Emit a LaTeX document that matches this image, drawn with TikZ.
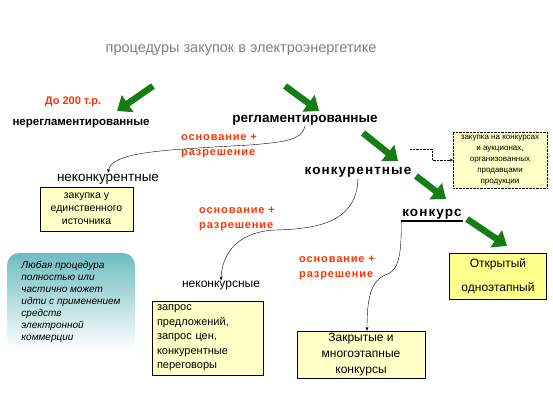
\documentclass[tikz,border=0pt]{standalone}
\usepackage{fontspec}
\setmainfont{Liberation Sans}
\usetikzlibrary{arrows.meta}
\definecolor{arrowgreen}{RGB}{20,125,20}
\definecolor{labelred}{RGB}{255,51,0}
\definecolor{paleyellow}{RGB}{255,255,200}
\definecolor{brightyellow}{RGB}{255,255,140}
\definecolor{tealtop}{RGB}{110,188,192}
\definecolor{titlegrey}{RGB}{128,128,128}
\begin{document}
\begin{tikzpicture}[
  x=1pt, y=-1pt,
  every node/.style={inner sep=1pt, font=\fontsize{11}{13}\selectfont},
  headline/.style={font=\fontsize{14.5}{17}\selectfont, text=titlegrey},
  kind/.style={font=\bfseries\fontsize{13.5}{16}\selectfont},
  spaced/.style={font=\bfseries\fontsize{13.5}{16}\selectfont\addfontfeature{LetterSpace=8}},
  subkind/.style={font=\fontsize{13.5}{15}\selectfont},
  reason/.style={font=\bfseries\fontsize{11}{15}\selectfont\addfontfeature{LetterSpace=8}, text=labelred, align=left, anchor=north west},
  procbox/.style={rectangle, draw, fill=paleyellow, align=center, inner sep=2pt},
  infobox/.style={rectangle, draw, densely dotted, fill=paleyellow, align=center, inner sep=1pt, font=\fontsize{8}{11}\selectfont},
  notebox/.style={rectangle, rounded corners=12pt, top color=tealtop, bottom color=white, align=left, font=\itshape\fontsize{10}{12}\selectfont},
  bigarrow/.style={arrowgreen, line width=6.5pt, -{Triangle[length=13pt, width=20pt]}},
  branch/.style={-{Stealth[length=4pt, width=3pt]}, thin},
]
\useasboundingbox (0,0) rectangle (553,413);

% title and top level
\node[headline] (title) at (241,50) {процедуры закупок в электроэнергетике};
\coordinate (a1s) at (153,86);
\coordinate (a1e) at (117,111);
\coordinate (a2s) at (285,86);
\coordinate (a2e) at (319,111);
\draw[bigarrow] (a1s) -- (a1e);
\draw[bigarrow] (a2s) -- (a2e);

\node[font=\bfseries\fontsize{11}{13}\selectfont, text=labelred] (limit) at (73,102) {До 200 т.р.};
\node[font=\bfseries\fontsize{11.5}{13}\selectfont] (unreg) at (81,124) {нерегламентированные};
\node[kind] (reg) at (305,120) {регламентированные};

% non-competitive branch
\node[reason] (why1) at (180,133) {основание +\\разрешение};
\node[subkind] (noncomp) at (108,179) {неконкурентные};
\node[procbox, minimum width=93pt, minimum height=44pt, font=\fontsize{10.5}{13}\selectfont] (single) at (86.5,209) {закупка у\\единственного\\источника};
\draw[branch] (reg.south) .. controls (302,140) and (285,142) .. (250,145) .. controls (160,150) and (112,152) .. (noncomp.north);

% competitive
\coordinate (a3s) at (363,133);
\coordinate (a3e) at (398,161);
\draw[bigarrow] (a3s) -- (a3e);
\node[spaced] (comp) at (358,172) {конкурентные};
\coordinate (seller) at (410,149);
\node[infobox, minimum width=94pt, minimum height=56pt] (auction) at (500,160) {закупка на конкурсах\\и аукционах,\\организованных\\продавцами\\продукции};
\draw[densely dotted, -{Stealth[length=3pt, width=3pt]}] (seller) -- ++(22,0) |- (auction.west);

% non-tender branch
\node[reason] (why2) at (198,206) {основание +\\разрешение};
\node[font=\fontsize{12}{14}\selectfont] (nontender) at (221,286) {неконкурсные};
\node[procbox, minimum width=111pt, minimum height=74pt, text width=101pt, align=left, font=\fontsize{11}{14.5}\selectfont] (request) at (207.5,338) {запрос\\предложений,\\запрос цен,\\конкурентные\\переговоры};
\draw[branch] (comp.south) .. controls (357,222) and (318,229) .. (275,230) .. controls (236,232) and (222,255) .. (nontender.north);

% tender branch
\coordinate (a4s) at (416,176);
\coordinate (a4e) at (446,199);
\draw[bigarrow] (a4s) -- (a4e);
\node[spaced] (tender) at (432,214) {конкурс};
\draw[line width=1.6pt] ([yshift=-1pt]tender.south west) -- ([yshift=-1pt]tender.south east);
\node[reason] (why3) at (298,255) {основание +\\разрешение};
\node[procbox, minimum width=128pt, minimum height=47pt, font=\fontsize{12}{16}\selectfont] (closed) at (361,354.5) {Закрытые и\\многоэтапные\\конкурсы};
\draw[branch] ([yshift=-1pt]tender.south west) .. controls (402,262) and (396,272) .. (385,275) .. controls (370,282) and (367,300) .. (closed.north -| 367,0);
\coordinate (a5s) at (467,219);
\coordinate (a5e) at (507,246);
\draw[bigarrow] (a5s) -- (a5e);
\node[procbox, fill=brightyellow, minimum width=97pt, minimum height=46pt, font=\fontsize{12}{24}\selectfont] (open) at (498,276) {Открытый\\одноэтапный};

% note
\node[notebox, minimum width=128pt, minimum height=97pt] (ecom) at (71,301.5) {Любая процедура\\полностью или\\частично может\\идти с применением\\средств\\электронной\\коммерции};
\end{tikzpicture}
\end{document}
